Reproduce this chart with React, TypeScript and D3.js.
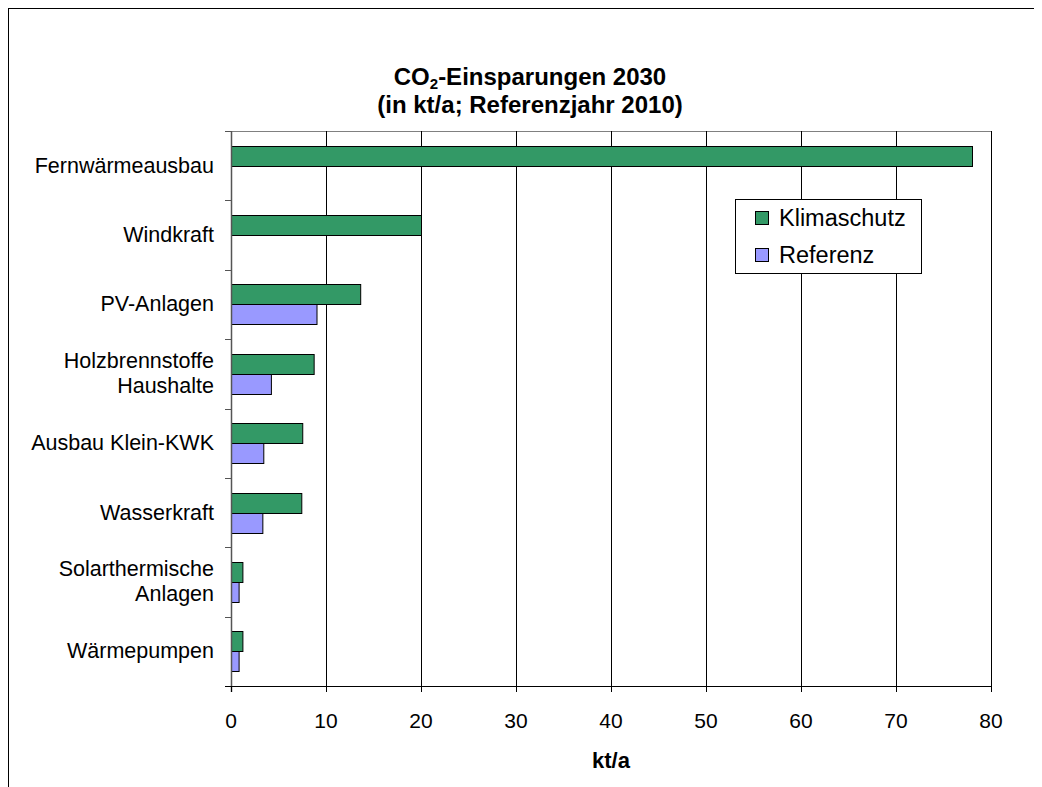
import React from "react";
import * as d3 from "d3";

const categories = [
  "Fernwärmeausbau",
  "Windkraft",
  "PV-Anlagen",
  "Holzbrennstoffe|Haushalte",
  "Ausbau Klein-KWK",
  "Wasserkraft",
  "Solarthermische|Anlagen",
  "Wärmepumpen",
];
const klimaschutz = [78, 20, 13.6, 8.7, 7.5, 7.4, 1.2, 1.2];
const referenz: (number | null)[] = [null, null, 9.0, 4.2, 3.4, 3.3, 0.8, 0.8];
const seriesNames = ["Klimaschutz", "Referenz"];
const seriesColors = ["#339966", "#9999FF"];
const xTicks = [0, 10, 20, 30, 40, 50, 60, 70, 80];

export default function App() {
  const off = 8;
  const left = 231 - off;
  const right = 991 - off;
  const top = 131 - off;
  const bottom = 686 - off;
  const x = d3.scaleLinear().domain([0, 80]).range([left, right]);
  const y0 = d3.scaleBand<string>().domain(categories).range([top, bottom]).padding(0);
  const y1 = d3
    .scaleBand<string>()
    .domain(seriesNames)
    .range([0, y0.bandwidth()])
    .paddingInner(0)
    .paddingOuter(0.735);
  const data = [klimaschutz, referenz];
  const font = "'Liberation Sans', Arial, sans-serif";

  return (
    <svg width={1060} height={800} style={{ display: "block" }} fontFamily={font}>
      <rect x={0.5} y={0.5} width={1058} height={798} fill="#fff" stroke="#000" strokeWidth={1} />
      {/* Title */}
      <text x={530 - off} y={85 - off} textAnchor="middle" fontSize={24} fontWeight="bold">
        CO
        <tspan fontSize={15} dy={4}>2</tspan>
        <tspan dy={-4}>-Einsparungen 2030</tspan>
      </text>
      <text x={530 - off} y={113 - off} textAnchor="middle" fontSize={24} fontWeight="bold">
        (in kt/a; Referenzjahr 2010)
      </text>
      {/* plot border top/right */}
      <line x1={left} x2={right + 0.5} y1={top + 0.5} y2={top + 0.5} stroke="#808080" />
      <line x1={right + 0.5} x2={right + 0.5} y1={top} y2={bottom} stroke="#808080" />
      {/* gridlines */}
      {xTicks.slice(1).map((t) => (
        <line
          key={"g" + t}
          x1={Math.round(x(t)) + 0.5}
          x2={Math.round(x(t)) + 0.5}
          y1={top}
          y2={bottom}
          stroke="#000"
          strokeWidth={1}
        />
      ))}
      {/* bars */}
      {categories.map((c, i) => (
        <g key={c}>
          {data.map((arr, s) => {
            const v = arr[i];
            if (v == null || v === 0) return null;
            const yy = (y0(c) as number) + (y1(seriesNames[s]) as number);
            return (
              <rect
                key={s}
                x={x(0) + 0.5}
                y={Math.round(yy) + 0.5}
                width={x(v) - x(0)}
                height={Math.round(y1.bandwidth())}
                fill={seriesColors[s]}
                stroke="#000"
                strokeWidth={1}
              />
            );
          })}
        </g>
      ))}
      {/* y axis */}
      <line x1={left + 0.5} x2={left + 0.5} y1={top} y2={bottom + 6} stroke="#555" strokeWidth={1.5} />
      {categories.map((c, i) => (
        <line
          key={"yt" + i}
          x1={left - 6}
          x2={left}
          y1={Math.round(y0(c) as number) + 0.5}
          y2={Math.round(y0(c) as number) + 0.5}
          stroke="#555"
        />
      ))}
      <line x1={left - 6} x2={left} y1={bottom + 0.5} y2={bottom + 0.5} stroke="#555" />
      {/* x axis */}
      <line x1={left - 6} x2={right + 0.5} y1={bottom + 0.5} y2={bottom + 0.5} stroke="#000" strokeWidth={1} />
      {xTicks.map((t) => (
        <g key={"xt" + t}>
          <line
            x1={Math.round(x(t)) + 0.5}
            x2={Math.round(x(t)) + 0.5}
            y1={bottom}
            y2={bottom + 6}
            stroke="#000"
          />
          <text x={x(t)} y={728 - off} textAnchor="middle" fontSize={21}>
            {t}
          </text>
        </g>
      ))}
      <text x={(left + right) / 2} y={768 - off} textAnchor="middle" fontSize={22} fontWeight="bold">
        kt/a
      </text>
      {/* category labels */}
      {categories.map((c) => {
        const lines = c.split("|");
        const cy = (y0(c) as number) + y0.bandwidth() / 2;
        const lh = 25;
        return (
          <text key={"l" + c} textAnchor="end" fontSize={21.5}>
            {lines.map((ln, k) => (
              <tspan key={k} x={214 - off} y={cy + 7 + (k - (lines.length - 1) / 2) * lh}>
                {ln}
              </tspan>
            ))}
          </text>
        );
      })}
      {/* legend */}
      <rect x={735.5 - off} y={199.5 - off} width={186} height={74} fill="#fff" stroke="#000" />
      {seriesNames.map((n, s) => (
        <g key={"lg" + n}>
          <rect
            x={755.5 - off}
            y={211.5 - off + s * 37}
            width={13}
            height={13}
            fill={seriesColors[s]}
            stroke="#000"
          />
          <text x={779 - off} y={226 - off + s * 37} fontSize={23.5}>
            {n}
          </text>
        </g>
      ))}
    </svg>
  );
}
